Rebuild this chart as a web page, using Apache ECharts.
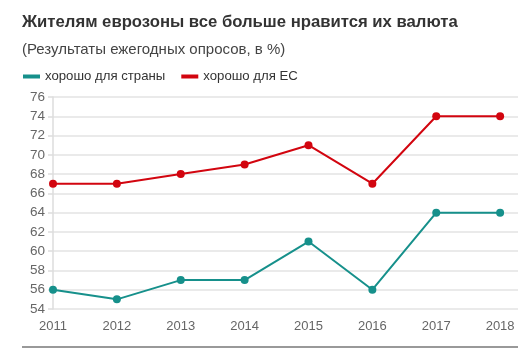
<!DOCTYPE html>
<html>
<head>
<meta charset="utf-8">
<script src="https://cdn.jsdelivr.net/npm/echarts@6/dist/echarts.min.js"></script>
<style>
  html, body { margin: 0; padding: 0; background: #fff; }
  #chart { width: 524px; height: 351px; }
</style>
</head>
<body>
<div id="chart"></div>
<script>
var years = [2011, 2012, 2013, 2014, 2015, 2016, 2017, 2018];
var goodForCountry = [56, 55, 57, 57, 61, 56, 64, 64];
var goodForEU = [67, 67, 68, 69, 71, 67, 74, 74];
var seriesNames = ['хорошо для страны', 'хорошо для ЕС'];

var teal = '#16908b';
var red = '#d2050f';

function pairs(vals) {
    return years.map(function (y, i) { return [y, vals[i]]; });
}

var myChart = echarts.init(document.getElementById('chart'));

var option = {
    animation: false,
    textStyle: { fontFamily: 'Liberation Sans, Arial, sans-serif' },
    title: {
        text: 'Жителям еврозоны все больше нравится их валюта',
        subtext: '(Результаты ежегодных опросов, в %)',
        left: 17,
        top: 9,
        itemGap: 11,
        textStyle: { fontSize: 16.7, fontWeight: 'bold', color: '#333' },
        subtextStyle: { fontSize: 15, color: '#444' }
    },
    legend: {
        left: 18,
        top: 65,
        icon: 'rect',
        itemWidth: 17,
        itemHeight: 4,
        itemGap: 16,
        selectedMode: false,
        textStyle: { fontSize: 13.2, color: '#333' },
        data: seriesNames
    },
    grid: { left: 53, right: 6, top: 97, bottom: 42 },
    xAxis: {
        type: 'value',
        min: 2011,
        max: 2018.28,
        interval: 1,
        axisLine: { show: false },
        axisTick: { show: false },
        splitLine: { show: false },
        axisLabel: {
            color: '#666', fontSize: 13, margin: 11, showMaxLabel: false,
            formatter: function (v) { return String(v); }
        }
    },
    yAxis: {
        type: 'value',
        min: 54,
        max: 76,
        interval: 2,
        axisLine: { show: true, lineStyle: { color: '#ddd', width: 1.5 } },
        axisTick: { show: true, length: 5, lineStyle: { color: '#ddd', width: 1.5 } },
        splitLine: { lineStyle: { color: '#e3e3e3', width: 1.5 } },
        axisLabel: { color: '#666', fontSize: 13.5, margin: 8 }
    },
    color: [teal, red],
    series: [
        {
            name: seriesNames[0],
            type: 'line',
            data: pairs(goodForCountry),
            symbol: 'circle',
            symbolSize: 8,
            lineStyle: { width: 2 },
            itemStyle: { color: teal }
        },
        {
            name: seriesNames[1],
            type: 'line',
            data: pairs(goodForEU),
            symbol: 'circle',
            symbolSize: 8,
            lineStyle: { width: 2 },
            itemStyle: { color: red }
        }
    ],
    graphic: [{
        type: 'line',
        shape: { x1: 22, y1: 347, x2: 518, y2: 347 },
        style: { stroke: '#777', lineWidth: 1.5 }
    }]
};

myChart.setOption(option);
</script>
</body>
</html>
